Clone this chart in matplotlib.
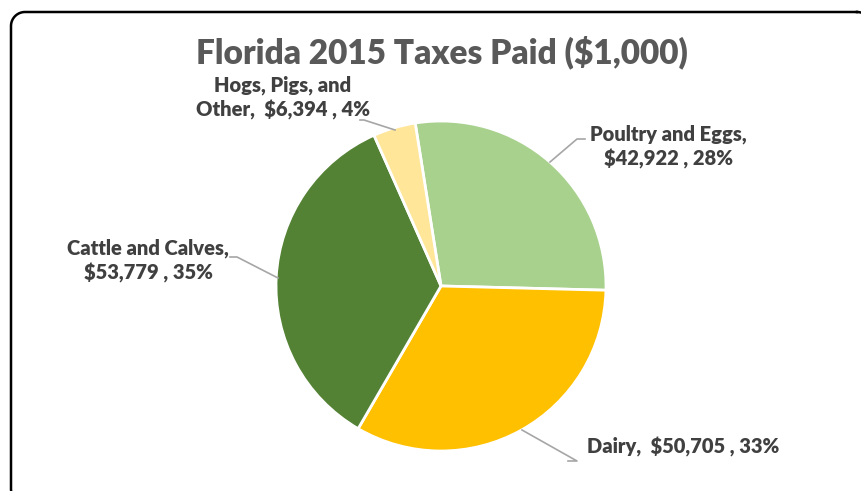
import matplotlib
matplotlib.use("Agg")
import matplotlib.pyplot as plt
import numpy as np
from matplotlib.lines import Line2D

categories = ["Poultry and Eggs", "Dairy", "Cattle and Calves", "Hogs, Pigs, and Other"]
values = [42922, 50705, 53779, 6394]
colors = ["#A9D18E", "#FFC000", "#548235", "#FFE699"]
label_texts = ["Poultry and Eggs,\n$42,922 , 28%",
               "Dairy,  $50,705 , 33%",
               "Cattle and Calves,\n$53,779 , 35%",
               "Hogs, Pigs, and\nOther,  $6,394 , 4%"]
title = "Florida 2015 Taxes Paid ($1,000)"

W, H = 862, 491
fig = plt.figure(figsize=(W / 100, H / 100), dpi=100)
plt.rcParams['font.family'] = ['Lato', 'DejaVu Sans']

def fx(px):
    return px / W

def fy(py):
    return 1 - py / H

# rounded border built in pixel geometry (top-left origin), extends past right/bottom
def rounded_rect(x0, y0, x1, y1, r, n=20):
    pts = []
    corners = [((x1 - r, y0 + r), -90, 0), ((x1 - r, y1 - r), 0, 90),
               ((x0 + r, y1 - r), 90, 180), ((x0 + r, y0 + r), 180, 270)]
    for (ccx, ccy), a0, a1 in corners:
        for a in np.linspace(np.radians(a0), np.radians(a1), n):
            pts.append((ccx + r * np.cos(a), ccy + r * np.sin(a)))
    pts.append(pts[0])
    return pts

bpts = rounded_rect(11, 12, 871, 503, 14)
fig.add_artist(Line2D([fx(p[0]) for p in bpts], [fy(p[1]) for p in bpts],
                      transform=fig.transFigure, color="black", linewidth=1.8,
                      solid_joinstyle="round"))

cx, cy, R = 441, 286, 165
ax = fig.add_axes([fx(cx - R), fy(cy + R), 2 * R / W, 2 * R / H])
wedges, _ = ax.pie(values, colors=colors, startangle=99, counterclock=False,
                   radius=1, wedgeprops=dict(edgecolor="white", linewidth=2))
ax.set_xlim(-1, 1)
ax.set_ylim(-1, 1)
ax.set_aspect("auto")
ax.axis("off")

fig.text(fx(442), fy(52), title, ha="center", va="center", fontsize=24,
         fontweight="heavy", color="#595959")

# label centers (px) and leader elbow points (px)
label_pos = [(668, 147), (683, 447), (148, 261), (283, 98)]
elbows = [[(577, 139), (585, 139)], [(568, 461), (577, 461)],
          [(230, 257), (237, 257)], [(360, 120), (364, 120)]]
line_ends = [(550, 162), (522, 430), (278, 278), (395, 130)]

for (lx, ly), txt in zip(label_pos, label_texts):
    fig.text(fx(lx), fy(ly), txt, ha="center", va="center", fontsize=14.5,
             fontweight="heavy", color="#404040", linespacing=1.3)

for el, end in zip(elbows, line_ends):
    if end[0] > cx:
        pts = [end, el[0], el[1]] if end[1] > el[0][1] else [end, el[1], el[0]]
    else:
        pts = [el[0], el[1], end]
    fig.add_artist(Line2D([fx(p[0]) for p in pts], [fy(p[1]) for p in pts],
                          transform=fig.transFigure, color="#A6A6A6", linewidth=1.2))

fig.savefig("out.png", dpi=100)
